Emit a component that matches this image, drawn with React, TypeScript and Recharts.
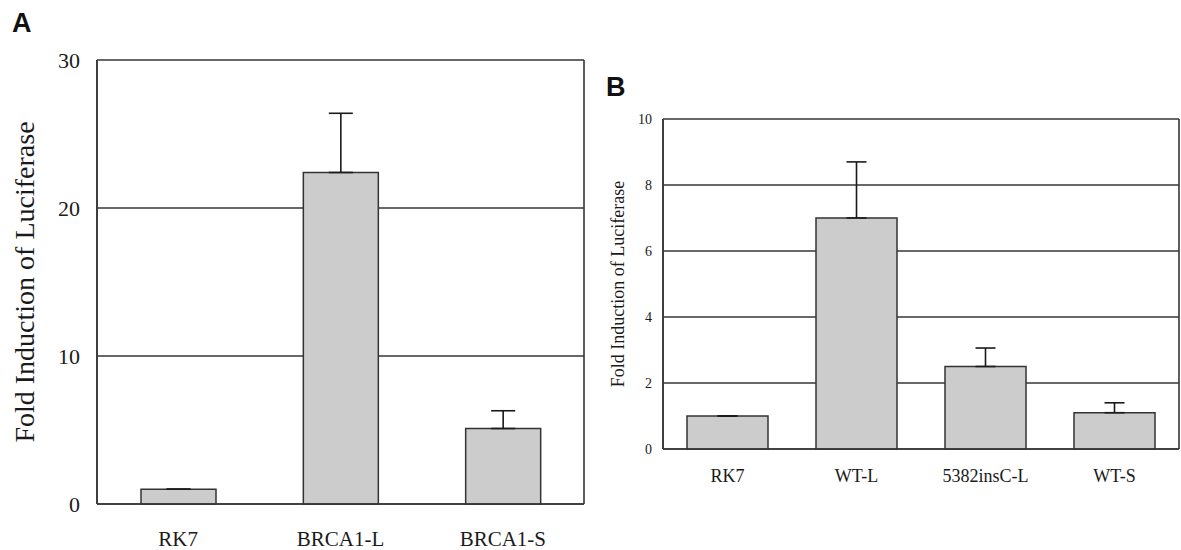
import React from 'react';
import { BarChart, Bar, XAxis, YAxis, CartesianGrid, ErrorBar, Label } from 'recharts';

// panel A
const catsA = ['RK7', 'BRCA1-L', 'BRCA1-S'];
const foldA = [1.0, 22.4, 5.1];
const errA = [0, 4.0, 1.2];
const ticksA = [0, 10, 20, 30];

// panel B
const catsB = ['RK7', 'WT-L', '5382insC-L', 'WT-S'];
const foldB = [1.0, 7.0, 2.5, 1.1];
const errB = [0, 1.7, 0.56, 0.3];
const ticksB = [0, 2, 4, 6, 8, 10];

const yTitle = 'Fold Induction of Luciferase';

const serif = '"Liberation Serif", "Times New Roman", serif';
const ink = '#1a1a1a';
const lineCol = '#363636';

const dataA = catsA.map((name, i) => ({ name, fold: foldA[i], err: [0, errA[i]] }));
const dataB = catsB.map((name, i) => ({ name, fold: foldB[i], err: [0, errB[i]] }));

const frame = ({ offset }: any) => [offset.left, offset.left + offset.width];

const panelLetter = (left: number, top: number): React.CSSProperties => ({
  position: 'absolute',
  left,
  top,
  fontFamily: '"Liberation Sans", Arial, sans-serif',
  fontWeight: 'bold',
  fontSize: 27,
  lineHeight: 1,
  color: '#111',
});

export default function App() {
  return (
    <div
      style={{
        position: 'fixed',
        left: 0,
        top: 0,
        width: 1181,
        height: 550,
        overflow: 'hidden',
        background: '#fff',
        fontFamily: serif,
      }}
    >
      <div style={{ position: 'absolute', left: 0, top: 0 }}>
        <BarChart
          width={600}
          height={550}
          data={dataA}
          margin={{ top: 60, right: 16, left: 0, bottom: 1 }}
          style={{ fontFamily: serif }}
        >
          <CartesianGrid vertical horizontal stroke={lineCol} strokeWidth={1.6} verticalCoordinatesGenerator={frame} />
          <XAxis
            dataKey="name"
            height={45}
            axisLine={{ stroke: lineCol, strokeWidth: 1.6 }}
            tickLine={false}
            tickSize={0}
            tickMargin={27}
            tick={{ fontSize: 21, fontFamily: serif, fill: ink }}
            interval={0}
          />
          <YAxis
            width={97}
            domain={[0, 30]}
            ticks={ticksA}
            interval={0}
            axisLine={{ stroke: lineCol, strokeWidth: 1.6 }}
            tickLine={false}
            tickSize={0}
            tickMargin={17}
            tick={{ fontSize: 22, fontFamily: serif, fill: ink }}
          >
            <Label
              value={yTitle}
              angle={-90}
              position="center"
              dx={-24}
              style={{ fontSize: 28, fontFamily: serif, fill: ink }}
            />
          </YAxis>
          <Bar dataKey="fold" fill="#cccccc" stroke="#333" strokeWidth={1.5} barSize={75} isAnimationActive={false}>
            <ErrorBar dataKey="err" direction="y" width={12} stroke={ink} strokeWidth={1.6} />
          </Bar>
        </BarChart>
      </div>

      <div style={{ position: 'absolute', left: 580, top: 0 }}>
        <BarChart
          width={601}
          height={550}
          data={dataB}
          margin={{ top: 119, right: 2, left: 0, bottom: 56 }}
          style={{ fontFamily: serif }}
        >
          <CartesianGrid vertical horizontal stroke={lineCol} strokeWidth={1.6} verticalCoordinatesGenerator={frame} />
          <XAxis
            dataKey="name"
            height={45}
            axisLine={{ stroke: lineCol, strokeWidth: 1.6 }}
            tickLine={false}
            tickSize={0}
            tickMargin={20}
            tick={{ fontSize: 18, fontFamily: serif, fill: ink }}
            interval={0}
          />
          <YAxis
            width={83}
            domain={[0, 10]}
            ticks={ticksB}
            interval={0}
            axisLine={{ stroke: lineCol, strokeWidth: 1.6 }}
            tickLine={false}
            tickSize={0}
            tickMargin={11}
            tick={{ fontSize: 14, fontFamily: serif, fill: ink }}
          >
            <Label
              value={yTitle}
              angle={-90}
              position="center"
              dx={-4}
              style={{ fontSize: 18, fontFamily: serif, fill: ink }}
            />
          </YAxis>
          <Bar dataKey="fold" fill="#cccccc" stroke="#333" strokeWidth={1.5} barSize={81} isAnimationActive={false}>
            <ErrorBar dataKey="err" direction="y" width={10} stroke={ink} strokeWidth={1.6} />
          </Bar>
        </BarChart>
      </div>

      <div style={panelLetter(12, 10)}>A</div>
      <div style={panelLetter(606, 74)}>B</div>
    </div>
  );
}
